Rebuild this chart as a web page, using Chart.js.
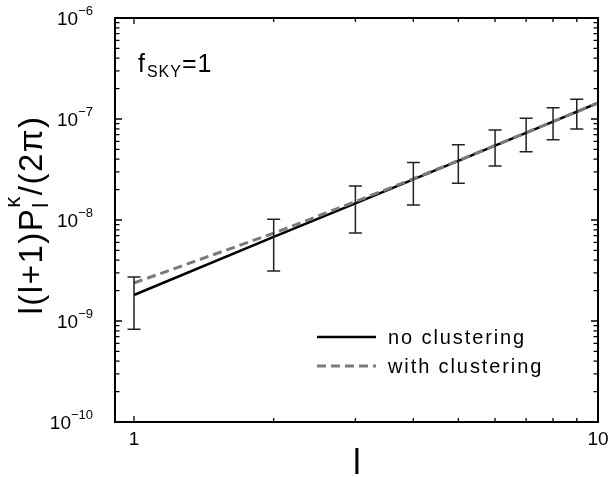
<!DOCTYPE html>
<html><head><meta charset="utf-8">
<script src="https://cdn.jsdelivr.net/npm/chart.js@4/dist/chart.umd.min.js"></script>
<style>html,body{margin:0;padding:0;background:#fff;} canvas{display:block;}</style>
</head><body>
<canvas id="c" width="610" height="477"></canvas>
<script>
// ---- data ----
const ell = [1, 2, 3, 4, 5, 6, 7, 8, 9, 10];
const noClustering   = [1.81e-9, 6.8e-9, 1.46e-8, 2.52e-8, 3.85e-8, 5.45e-8, 7.3e-8, 9.4e-8, 1.18e-7, 1.44e-7];
const withClustering = [2.38e-9, 7.4e-9, 1.52e-8, 2.56e-8, 3.88e-8, 5.48e-8, 7.33e-8, 9.42e-8, 1.18e-7, 1.44e-7];
const errEll  = [1, 2, 3, 4, 5, 6, 7, 8, 9];
const errLow  = [8.3e-10, 3.13e-9, 7.43e-9, 1.41e-8, 2.31e-8, 3.43e-8, 4.74e-8, 6.24e-8, 7.96e-8];
const errHigh = [2.73e-9, 1.02e-8, 2.17e-8, 3.70e-8, 5.57e-8, 7.78e-8, 1.02e-7, 1.29e-7, 1.57e-7];
const seriesLabels = ['no clustering', 'with clustering'];
const xTickValues = [1, 10];
const xTickLabels = ['1', '10'];
const yTickValues = [1e-10, 1e-9, 1e-8, 1e-7, 1e-6];
const yTickBase = '10';
const yTickExponents = ['\u221210', '\u22129', '\u22128', '\u22127', '\u22126'];
const xTitle = 'l';
const annotationMain = 'f';
const annotationSub = 'SKY';
const annotationTail = '=1';

const FONT = '"Liberation Sans", Arial, Helvetica, sans-serif';

const framePlugin = {
  id: 'frame',
  afterDatasetsDraw(chart) {
    const {ctx, scales: {x, y}} = chart;
    ctx.save();
    ctx.strokeStyle = '#222';
    ctx.lineWidth = 1.5;
    for (let i = 0; i < errEll.length; i++) {
      const px = x.getPixelForValue(errEll[i]);
      const lo = y.getPixelForValue(errLow[i]);
      const hi = y.getPixelForValue(errHigh[i]);
      ctx.beginPath();
      ctx.moveTo(px, lo); ctx.lineTo(px, hi);
      ctx.moveTo(px - 6.5, lo); ctx.lineTo(px + 6.5, lo);
      ctx.moveTo(px - 6.5, hi); ctx.lineTo(px + 6.5, hi);
      ctx.stroke();
    }
    ctx.restore();
  },
  afterDraw(chart) {
    const {ctx, chartArea: a, scales: {x, y}} = chart;
    ctx.save();
    // frame
    ctx.strokeStyle = '#000';
    ctx.lineWidth = 2;
    ctx.strokeRect(a.left, a.top, a.right - a.left, a.bottom - a.top);
    // ticks
    ctx.lineWidth = 1.3;
    ctx.beginPath();
    const xMinor = [2, 3, 4, 5, 6, 7, 8, 9];
    xTickValues.forEach(v => {
      const p = x.getPixelForValue(v);
      ctx.moveTo(p, a.bottom); ctx.lineTo(p, a.bottom - 6);
      ctx.moveTo(p, a.top); ctx.lineTo(p, a.top + 6);
    });
    xMinor.forEach(v => {
      const p = x.getPixelForValue(v);
      ctx.moveTo(p, a.bottom); ctx.lineTo(p, a.bottom - 4);
      ctx.moveTo(p, a.top); ctx.lineTo(p, a.top + 4);
    });
    yTickValues.forEach(v => {
      const p = y.getPixelForValue(v);
      ctx.moveTo(a.left, p); ctx.lineTo(a.left + 7, p);
      ctx.moveTo(a.right, p); ctx.lineTo(a.right - 7, p);
    });
    for (let d = 0; d < yTickValues.length - 1; d++) {
      for (let m = 2; m <= 9; m++) {
        const p = y.getPixelForValue(yTickValues[d] * m);
        ctx.moveTo(a.left, p); ctx.lineTo(a.left + 4.5, p);
        ctx.moveTo(a.right, p); ctx.lineTo(a.right - 4.5, p);
      }
    }
    ctx.stroke();

    ctx.fillStyle = '#000';
    // x tick labels
    ctx.font = `19px ${FONT}`;
    ctx.textAlign = 'center';
    ctx.textBaseline = 'middle';
    xTickValues.forEach((v, i) => {
      ctx.fillText(xTickLabels[i], x.getPixelForValue(v), a.bottom + 18);
    });
    // y tick labels with superscript exponents
    yTickValues.forEach((v, i) => {
      const p = y.getPixelForValue(v);
      ctx.font = `13px ${FONT}`;
      const ew = ctx.measureText(yTickExponents[i]).width;
      const right = a.left - 22;
      ctx.textAlign = 'right';
      ctx.textBaseline = 'alphabetic';
      ctx.fillText(yTickExponents[i], right, p - 3);
      ctx.font = `19px ${FONT}`;
      ctx.fillText(yTickBase, right - ew, p + 7);
    });
    // x title
    ctx.font = `35px ${FONT}`;
    ctx.textAlign = 'center';
    ctx.textBaseline = 'alphabetic';
    ctx.fillText(xTitle, (a.left + a.right) / 2 + 0.5, a.bottom + 52);

    // y title: l(l+1)P_l^kappa/(2pi)
    ctx.save();
    const bigF = `33px ${FONT}`, smallF = `22px ${FONT}`;
    ctx.letterSpacing = '1.5px';
    ctx.font = bigF;
    const w1 = ctx.measureText('l(l+1)P').width;
    const w3 = ctx.measureText('/(2\u03c0)').width;
    ctx.font = smallF;
    const w2 = Math.max(ctx.measureText('l').width, ctx.measureText('\u03ba').width);
    const total = w1 + w2 + w3;
    const cy = (a.top + a.bottom) / 2 - 5;
    ctx.translate(a.left - 73, cy + total / 2);
    ctx.rotate(-Math.PI / 2);
    ctx.textAlign = 'left';
    ctx.font = bigF;
    ctx.fillText('l(l+1)P', 0, 0);
    ctx.font = smallF;
    ctx.fillText('l', w1, 6);
    ctx.fillText('\u03ba', w1, -22);
    ctx.font = bigF;
    ctx.fillText('/(2\u03c0)', w1 + w2, 0);
    ctx.restore();

    // annotation f_SKY=1
    ctx.save();
    ctx.textAlign = 'left';
    ctx.letterSpacing = '1px';
    const ax = a.left + 23, ay = a.top + 54;
    ctx.font = `25px ${FONT}`;
    ctx.fillText(annotationMain, ax, ay);
    const fw = ctx.measureText(annotationMain).width;
    ctx.font = `16px ${FONT}`;
    ctx.fillText(annotationSub, ax + fw + 1, ay + 5);
    const sw = ctx.measureText(annotationSub).width;
    ctx.font = `25px ${FONT}`;
    ctx.fillText(annotationTail, ax + fw + sw + 1, ay);
    ctx.restore();

    // legend
    ctx.save();
    ctx.textAlign = 'left';
    ctx.textBaseline = 'middle';
    ctx.font = `20px ${FONT}`;
    ctx.letterSpacing = '1.9px';
    chart.data.datasets.forEach((ds, i) => {
      const ly = a.top + 319 + i * 29;
      const lx = a.left + 202;
      ctx.strokeStyle = ds.borderColor;
      ctx.lineWidth = ds.borderWidth;
      ctx.setLineDash(ds.borderDash || []);
      ctx.beginPath();
      ctx.moveTo(lx, ly); ctx.lineTo(lx + 59, ly);
      ctx.stroke();
      ctx.setLineDash([]);
      ctx.fillStyle = '#000';
      ctx.fillText(ds.label, lx + 71, ly + 1);
    });
    ctx.restore();
    ctx.restore();
  }
};

new Chart(document.getElementById('c'), {
  type: 'line',
  data: {
    datasets: [
      {
        label: seriesLabels[0],
        data: ell.map((l, i) => ({x: l, y: noClustering[i]})),
        borderColor: '#000',
        borderWidth: 2.5,
        pointRadius: 0,
        fill: false,
        tension: 0,
        order: 1
      },
      {
        label: seriesLabels[1],
        data: ell.map((l, i) => ({x: l, y: withClustering[i]})),
        borderColor: '#7a7a7a',
        borderWidth: 3,
        borderDash: [9, 5],
        pointRadius: 0,
        fill: false,
        tension: 0,
        order: 0
      }
    ]
  },
  options: {
    responsive: false,
    animation: false,
    devicePixelRatio: 1,
    layout: {padding: {left: 115, right: 12, top: 18, bottom: 55}},
    scales: {
      x: {type: 'logarithmic', min: 0.91, max: 10, display: false},
      y: {type: 'logarithmic', min: 1e-10, max: 1e-6, display: false}
    },
    plugins: {legend: {display: false}, tooltip: {enabled: false}}
  },
  plugins: [framePlugin]
});
</script>
</body></html>
